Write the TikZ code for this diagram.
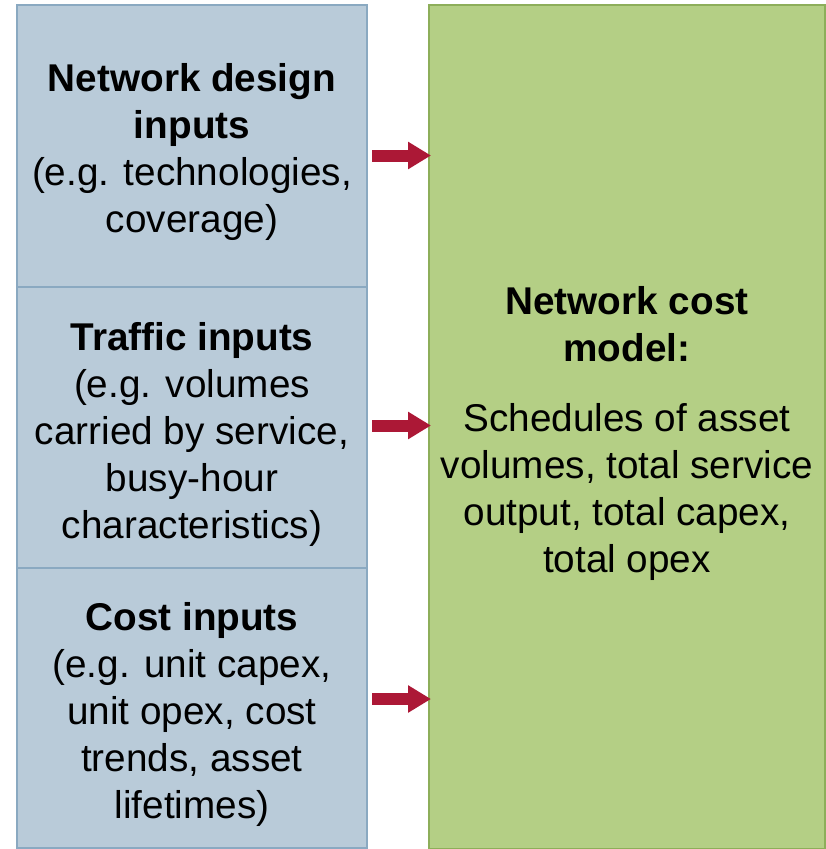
\documentclass[tikz,border=0pt]{standalone}
\usepackage{fontspec}
\setmainfont{Liberation Sans}
\usetikzlibrary{arrows.meta}
\definecolor{inblue}{RGB}{185,203,217}
\definecolor{inblueedge}{RGB}{138,169,193}
\definecolor{modelgreen}{RGB}{180,207,133}
\definecolor{modelgreenedge}{RGB}{141,174,90}
\definecolor{flowred}{RGB}{172,24,54}
\begin{document}
\begin{tikzpicture}[x=1pt,y=-1pt,
  inputbox/.style={draw=inblueedge,fill=inblue,line width=2pt,
    minimum width=350pt,inner sep=0pt},
  modelbox/.style={draw=modelgreenedge,fill=modelgreen,line width=2pt,
    minimum width=396pt,minimum height=844pt,inner sep=0pt},
  boxtext/.style={inner sep=0pt,align=center,
    font=\fontsize{38.7}{47}\selectfont},
  flow/.style={draw=flowred,line width=12pt,
    -{Triangle[width=26pt,length=23pt]}}]
\useasboundingbox (0,0) rectangle (826,849);

% input boxes
\node[inputbox,minimum height=282pt] (b1) at (192,146) {};
\node[inputbox,minimum height=281pt] (b2) at (192,427.5) {};
\node[inputbox,minimum height=280pt] (b3) at (192,708) {};

% cost model
\node[modelbox] (g) at (627,427) {};

% box texts, set a little below each box centre
\node[boxtext] (t1) at ([yshift=-6pt]b1.center)
  {\textbf{Network design}\\\textbf{inputs}\\(e.g. technologies,\\coverage)};
\node[boxtext] (t2) at ([yshift=-6.5pt]b2.center)
  {\textbf{Traffic inputs}\\(e.g. volumes\\carried by service,\\busy-hour\\characteristics)};
\node[boxtext] (t3) at ([yshift=-6.5pt]b3.center)
  {\textbf{Cost inputs}\\(e.g. unit capex,\\unit opex, cost\\trends, asset\\lifetimes)};
\node[boxtext] (tg) at ([yshift=-6.5pt]g.center)
  {\textbf{Network cost}\\\textbf{model:}\\[23pt]Schedules of asset\\volumes, total service\\output, total capex,\\total opex};

% flows into the model
\coordinate (a1) at ([shift={(4,9.5)}]b1.east);
\coordinate (a2) at ([shift={(4,-2)}]b2.east);
\coordinate (a3) at ([shift={(4,-9)}]b3.east);
\draw[flow] (a1) -- ([xshift=3pt]a1 -| g.west);
\draw[flow] (a2) -- ([xshift=3pt]a2 -| g.west);
\draw[flow] (a3) -- ([xshift=3pt]a3 -| g.west);
\end{tikzpicture}
\end{document}
